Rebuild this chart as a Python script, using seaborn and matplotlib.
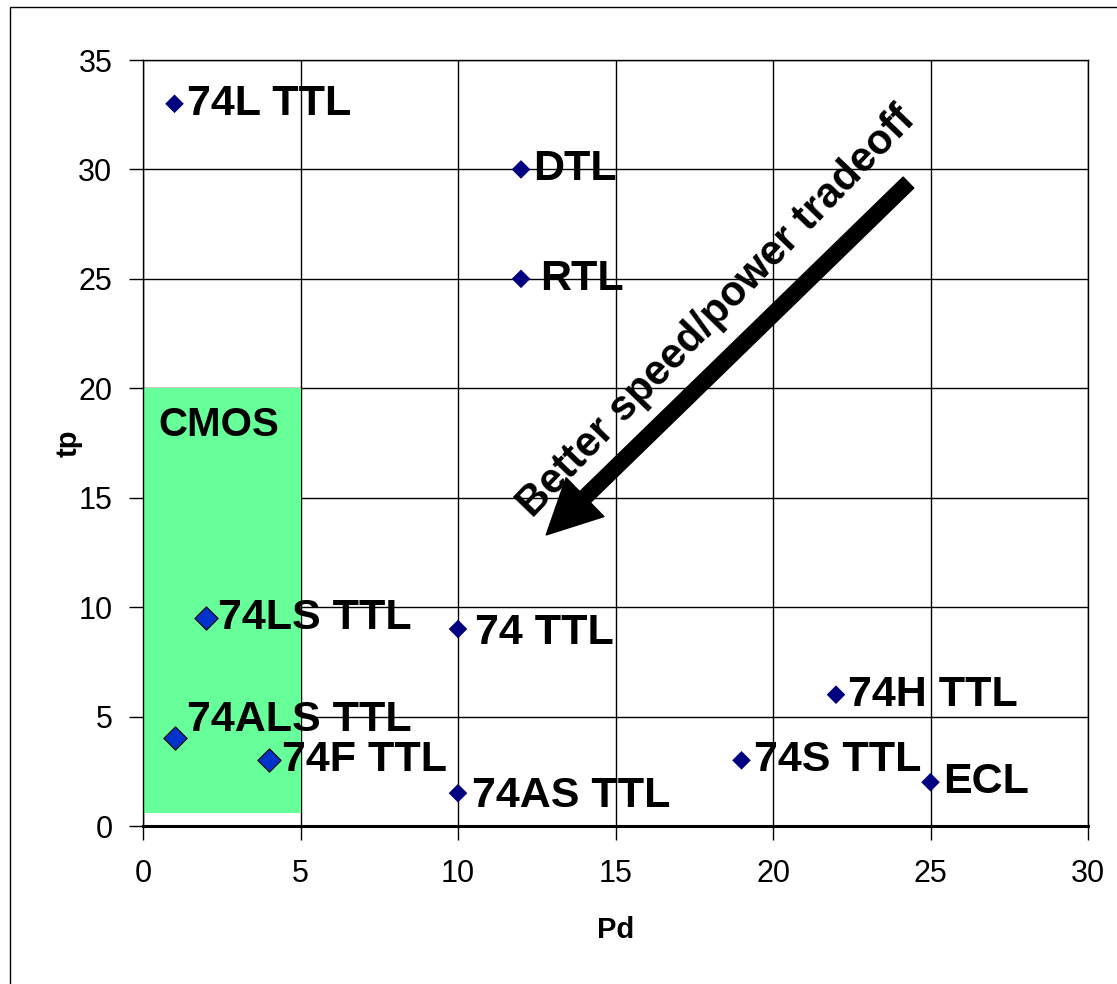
import matplotlib
matplotlib.use("Agg")
import matplotlib.pyplot as plt
import matplotlib.patches as mpatches
import seaborn as sns
import pandas as pd

# logic families: power dissipation vs propagation delay
families = ["74L TTL", "DTL", "RTL", "74LS TTL", "74 TTL", "74ALS TTL",
            "74F TTL", "74AS TTL", "74H TTL", "74S TTL", "ECL"]
pd_vals = [1, 12, 12, 2, 10, 1, 4, 10, 22, 19, 25]
tp_vals = [33, 30, 25, 9.5, 9, 4, 3, 1.5, 6, 3, 2]
highlight = [False, False, False, True, False, True, True, False, False, False, False]

cmos_pd = [0, 5]
cmos_tp = [0.6, 20]

df = pd.DataFrame({"Pd": pd_vals, "tp": tp_vals, "name": families, "hl": highlight})

sns.set_style("white")
plt.rcParams["font.family"] = ["Liberation Sans", "DejaVu Sans"]
plt.rcParams.update({"text.color": "black", "axes.labelcolor": "black",
                     "xtick.color": "black", "ytick.color": "black"})

fig = plt.figure(figsize=(11.17, 9.84), dpi=100)
ax = fig.add_axes([143 / 1117, 1 - 826 / 984, (1088 - 143) / 1117, (826 - 60) / 984])

# CMOS region
ax.add_patch(mpatches.Rectangle((cmos_pd[0], cmos_tp[0]), cmos_pd[1] - cmos_pd[0],
                                cmos_tp[1] - cmos_tp[0], facecolor="#66FF99",
                                edgecolor="none", zorder=1))
ax.text(0.5, 18.3, "CMOS", fontsize=29, fontweight="bold", va="center", ha="left", zorder=2)

sns.scatterplot(data=df[~df["hl"]], x="Pd", y="tp", marker="D", s=90, color="#000080",
                edgecolor="none", ax=ax, zorder=4)
sns.scatterplot(data=df[df["hl"]], x="Pd", y="tp", marker="D", s=140, color="#0033CC",
                edgecolor="black", linewidth=0.8, ax=ax, zorder=4)

# label offsets in points (dx, dy)
offsets = {"74ALS TTL": (9, 13), "RTL": (14, 0), "74 TTL": (12, -3), "74AS TTL": (10, -2)}
for name, x, y in zip(families, pd_vals, tp_vals):
    dx, dy = offsets.get(name, (9, 0))
    ax.annotate(name, (x, y), xytext=(dx, dy), textcoords="offset points",
                fontsize=31, fontweight="bold", va="center", ha="left", zorder=5)

# arrow
ax.annotate("", xy=(12.8, 13.3), xytext=(24.3, 29.4),
            arrowprops=dict(arrowstyle="simple,head_width=1.95,head_length=1.95,tail_width=0.55",
                            mutation_scale=20, facecolor="black", edgecolor="black",
                            shrinkA=0, shrinkB=0), zorder=3)
ax.text(18.2, 23.5, "Better speed/power tradeoff", fontsize=30, fontweight="bold",
        rotation=46, rotation_mode="anchor", ha="center", va="center", zorder=5)

ax.set_xlim(0, 30)
ax.set_ylim(0, 35)
ax.set_xticks(range(0, 31, 5))
ax.set_yticks(range(0, 36, 5))
ax.grid(True, color="black", linewidth=1, zorder=0)
ax.set_axisbelow(True)
for s in ax.spines.values():
    s.set_color("black")
    s.set_linewidth(1)
ax.spines["bottom"].set_linewidth(2.2)
ax.tick_params(axis="both", direction="out", length=10, width=1, color="black",
               labelsize=22, bottom=True, left=True)
ax.tick_params(axis="x", pad=14)
ax.tick_params(axis="y", pad=12)
ax.set_xlabel("Pd", fontsize=21, fontweight="bold")
ax.set_ylabel("tp", fontsize=21, fontweight="bold")
ax.xaxis.set_label_coords(0.5, -0.117)
ax.yaxis.set_label_coords(-0.064, 0.5)

# outer border
fig.add_artist(mpatches.Rectangle((10 / 1117, -0.02), 1.0, 1 - 7 / 984 + 0.02,
                                  transform=fig.transFigure, fill=False,
                                  edgecolor="black", linewidth=1))

fig.savefig("out.png", dpi=100)
